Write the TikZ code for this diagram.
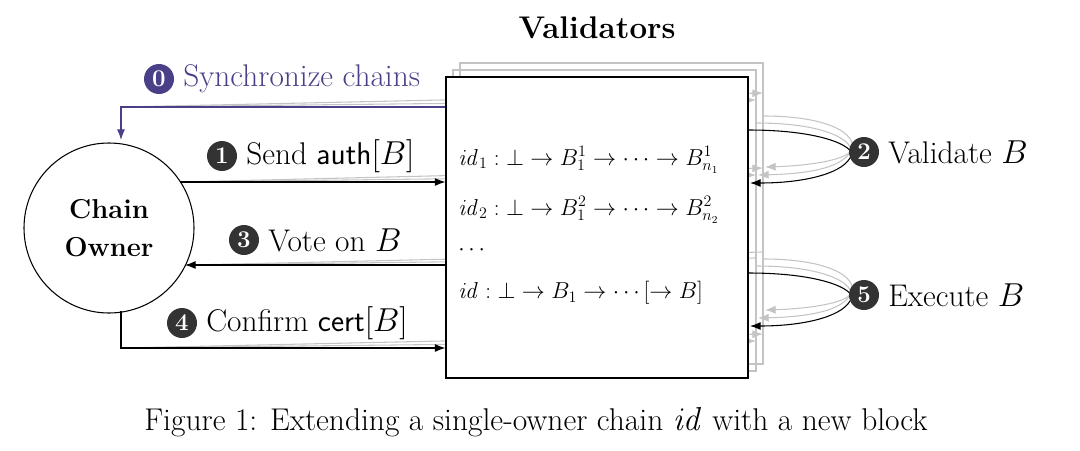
\documentclass[tikz,border=0pt]{standalone}
\usepackage{amsmath}
\usetikzlibrary{arrows.meta}
\definecolor{pur}{HTML}{4A4088}
\definecolor{dk}{HTML}{333333}
\definecolor{lg}{HTML}{C4C4C4}
\begin{document}
\begin{tikzpicture}[x=0.75pt,y=-0.75pt,
  lab/.style={font=\fontsize{23.5}{26}\selectfont,anchor=west,inner sep=0pt},
  badge/.style={circle,fill=#1,text=white,font=\bfseries\fontsize{18}{18}\selectfont,minimum size=22.5pt,inner sep=0pt},
  arr/.style={-{Latex[length=8pt,width=6pt]},line width=0.8pt},
  garr/.style={-{Latex[length=8pt,width=6pt]},line width=0.8pt,lg},
  mt/.style={font=\fontsize{16.5}{18}\selectfont,anchor=west,inner sep=0pt}]
\useasboundingbox (0,0) rectangle (1080,450);
% back boxes
\draw[lg,line width=0.8pt] (460,63) rectangle (763,364);
\draw[lg,line width=0.8pt] (453,70) rectangle (756,371);
% gray fan lines
\draw[garr] (121,107) -- (763,93);
\draw[garr] (121,107) -- (756,100);
\draw[garr] (180,182) -- (763,168);
\draw[garr] (180,182) -- (756,175);
\draw[lg,line width=0.8pt] (763,252) -- (190,265);
\draw[lg,line width=0.8pt] (756,258) -- (190,265);
\draw[garr] (121,348) -- (763,334);
\draw[garr] (121,348) -- (756,341);
% gray loops
\draw[garr] (763,116) .. controls (840,116) and (860,140) .. (850,152) .. controls (840,162) and (800,166) .. (765,167);
\draw[garr] (756,123) .. controls (835,123) and (855,145) .. (850,152) .. controls (840,170) and (800,174) .. (758,175);
\draw[garr] (763,259) .. controls (840,259) and (860,283) .. (850,295) .. controls (840,305) and (800,309) .. (765,310);
\draw[garr] (756,266) .. controls (835,266) and (855,288) .. (850,295) .. controls (840,313) and (800,317) .. (758,318);
% front box
\node[draw,fill=white,line width=0.8pt,minimum width=226.5pt,minimum height=225.75pt,inner sep=0pt] (box) at (597,227.5) {};
\node[font=\bfseries\fontsize{23.5}{26}\selectfont] (title) at (597,28) {Validators};
\node[mt] (l1) at (458,160) {$\mathit{id}_1:\bot\to B_1^1\to\cdots\to B_{n_1}^1$};
\node[mt] (l2) at (458,210) {$\mathit{id}_2:\bot\to B_1^2\to\cdots\to B_{n_2}^2$};
\node[mt] (l3) at (458,250) {$\cdots$};
\node[mt] (l4) at (458,293) {$\mathit{id}:\bot\to B_1\to\cdots[\to B]$};
% owner
\node[draw,circle,line width=0.8pt,minimum size=127.5pt,align=center,font=\bfseries\fontsize{20.5}{29}\selectfont] (own) at (109,228) {Chain\\Owner};
% arrows
\draw[-{Latex[length=8pt,width=6pt]},{Latex[length=8pt,width=6pt]}-,line width=0.8pt,pur] (121,140) -- (121,107) -- (box.west |- 0,107);
\draw[arr] (180,182) -- (box.west |- 0,182);
\draw[arr] (box.west |- 0,265) -- (185,265);
\draw[arr] (121,311) -- (121,348) -- (box.west |- 0,348);
\draw[arr] (748,130) .. controls (830,130) and (860,150) .. (850,158) .. controls (840,175) and (800,183) .. (750,183);
\draw[arr] (748,273) .. controls (830,273) and (860,293) .. (850,301) .. controls (840,318) and (800,326) .. (750,326);
% labels
\node[badge=pur] (n0) at (159,79) {0};
\node[lab,text=pur] (t0) at (183,79) {Synchronize chains};
\node[badge=dk] (n1) at (222,156) {1};
\node[lab] (t1) at (246,156) {Send $\textsf{auth}[B]$};
\node[badge=dk] (n2) at (864,152) {2};
\node[lab] (t2) at (888,152) {Validate $B$};
\node[badge=dk] (n3) at (244,240) {3};
\node[lab] (t3) at (268,240) {Vote on $B$};
\node[badge=dk] (n4) at (182,323) {4};
\node[lab] (t4) at (206,323) {Confirm $\textsf{cert}[B]$};
\node[badge=dk] (n5) at (864,295) {5};
\node[lab] (t5) at (888,295) {Execute $B$};
\node[font=\fontsize{23.6}{26}\selectfont] (cap) at (536,422) {Figure 1: Extending a single-owner chain $\mathit{id}$ with a new block};
\end{tikzpicture}
\end{document}
